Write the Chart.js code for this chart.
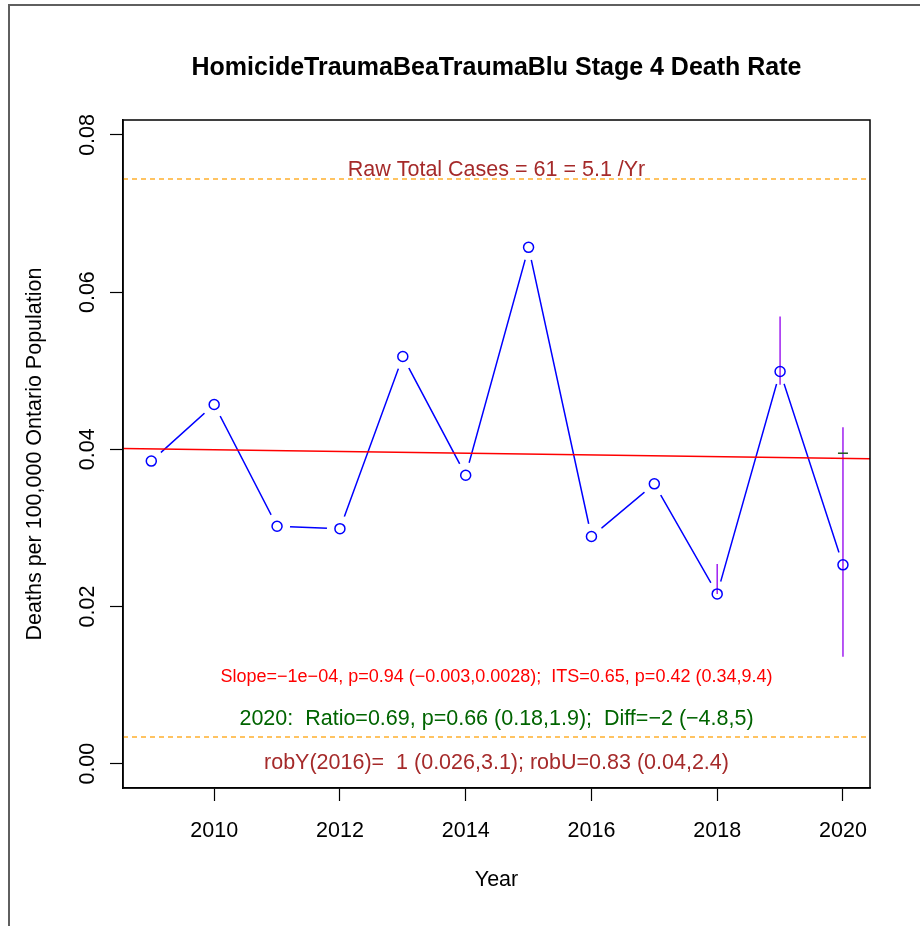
<!DOCTYPE html>
<html>
<head>
<meta charset="utf-8">
<script src="https://cdn.jsdelivr.net/npm/chart.js@4/dist/chart.umd.min.js"></script>
<style>
  body { margin: 0; background: #fff; }
  canvas { display: block; }
</style>
</head>
<body>
<canvas id="rateChart" width="920" height="926"></canvas>
<script>
// values
const years = [2009, 2010, 2011, 2012, 2013, 2014, 2015, 2016, 2017, 2018, 2019, 2020];
const rates = [0.0385, 0.0457, 0.0302, 0.0299, 0.0518, 0.0367, 0.0657, 0.0289, 0.0356, 0.0216, 0.0499, 0.0253];

const trendX = [2008.55, 2020.43];
const trendY = [0.0401, 0.0388];

const errYears = [2018, 2019, 2020];
const errLow = [0.0216, 0.0482, 0.0136];
const errHigh = [0.0254, 0.0569, 0.0428];

const expectedYear = [2020];
const expectedRate = [0.0395];

const rawCasesLine = 0.0744;
const lowLine = 0.0034;

const xRange = [2008.55, 2020.43];
const yRange = [-0.0031, 0.0819];
const xTicks = [2010, 2012, 2014, 2016, 2018, 2020];
const yTicks = [0, 0.02, 0.04, 0.06, 0.08];
const yTickLabels = ["0.00", "0.02", "0.04", "0.06", "0.08"];

const titleText = "HomicideTraumaBeaTraumaBlu Stage 4 Death Rate";
const yTitle = "Deaths per 100,000 Ontario Population";
const xTitle = "Year";
const rawText = "Raw Total Cases = 61 = 5.1 /Yr";
const slopeText = "Slope=\u22121e\u221204, p=0.94 (\u22120.003,0.0028);  ITS=0.65, p=0.42 (0.34,9.4)";
const ratioText = "2020:  Ratio=0.69, p=0.66 (0.18,1.9);  Diff=\u22122 (\u22124.8,5)";
const robText = "robY(2016)=  1 (0.026,3.1); robU=0.83 (0.04,2.4)";

const FONT = "'Liberation Sans', Arial, sans-serif";

const pts = years.map((y, i) => ({ x: y, y: rates[i] }));
const errPts = [];
errYears.forEach((yr, i) => {
  errPts.push({ x: yr, y: errLow[i] }, { x: yr, y: errHigh[i] }, { x: yr, y: null });
});

function hline(v) {
  return [{ x: xRange[0], y: v }, { x: xRange[1], y: v }];
}

const decorations = {
  id: "decorations",
  beforeDraw(chart) {
    const ctx = chart.ctx;
    ctx.save();
    ctx.fillStyle = "#fff";
    ctx.fillRect(0, 0, chart.width, chart.height);
    // outer frame
    ctx.strokeStyle = "#5f5f5f";
    ctx.lineWidth = 2;
    ctx.beginPath();
    ctx.moveTo(9, chart.height);
    ctx.lineTo(9, 5);
    ctx.lineTo(chart.width, 5);
    ctx.stroke();
    ctx.restore();
  },
  afterDraw(chart) {
    const ctx = chart.ctx;
    const a = chart.chartArea;
    const ys = chart.scales.y;
    const cx = (a.left + a.right) / 2;
    ctx.save();
    ctx.strokeStyle = "#000";
    ctx.lineWidth = 1.5;
    ctx.strokeRect(a.left, a.top, a.right - a.left, a.bottom - a.top);

    ctx.textAlign = "center";
    ctx.textBaseline = "middle";

    // y tick labels, rotated as in R
    ctx.fillStyle = "#000";
    ctx.font = "21.5px " + FONT;
    yTicks.forEach((v, i) => {
      ctx.save();
      ctx.translate(88, ys.getPixelForValue(v));
      ctx.rotate(-Math.PI / 2);
      ctx.fillText(yTickLabels[i], 0, 0);
      ctx.restore();
    });

    // axis titles
    ctx.save();
    ctx.translate(35, (a.top + a.bottom) / 2);
    ctx.rotate(-Math.PI / 2);
    ctx.fillText(yTitle, 0, 0);
    ctx.restore();
    ctx.fillText(xTitle, cx, 880);

    ctx.font = "bold 25px " + FONT;
    ctx.fillText(titleText, cx, 68);

    // annotations
    ctx.font = "21.5px " + FONT;
    ctx.fillStyle = "#A52A2A";
    ctx.fillText(rawText, cx, 170);
    ctx.font = "18px " + FONT;
    ctx.fillStyle = "#FF0000";
    ctx.fillText(slopeText, cx, 677);
    ctx.font = "21.5px " + FONT;
    ctx.fillStyle = "#006400";
    ctx.fillText(ratioText, cx, 719);
    ctx.fillStyle = "#A52A2A";
    ctx.fillText(robText, cx, 763);
    ctx.restore();
  }
};

new Chart(document.getElementById("rateChart"), {
  type: "scatter",
  data: {
    datasets: [
      {
        data: pts, showLine: true, borderColor: "#0000FF", borderWidth: 1.5,
        pointRadius: 0, order: 10
      },
      {
        // white discs leave gaps in the line round each point (R type="b")
        data: pts, showLine: false, pointRadius: 13, pointBorderWidth: 0,
        pointBackgroundColor: "#fff", pointBorderColor: "#fff", order: 9
      },
      {
        data: errPts, showLine: true, spanGaps: false, borderColor: "#A020F0",
        borderWidth: 1.5, pointRadius: 0, order: 8
      },
      {
        data: trendX.map((x, i) => ({ x: x, y: trendY[i] })), showLine: true,
        borderColor: "#FF0000", borderWidth: 1.5, pointRadius: 0, order: 7
      },
      {
        data: hline(rawCasesLine), showLine: true, borderColor: "#FFB02E",
        borderWidth: 1.5, borderDash: [5, 4], pointRadius: 0, order: 6
      },
      {
        data: hline(lowLine), showLine: true, borderColor: "#FFB02E",
        borderWidth: 1.5, borderDash: [5, 4], pointRadius: 0, order: 6
      },
      {
        data: pts, showLine: false, pointRadius: 5, pointBorderWidth: 1.5,
        pointBackgroundColor: "rgba(0,0,0,0)", pointBorderColor: "#0000FF", order: 5
      },
      {
        data: expectedYear.map((x, i) => ({ x: x, y: expectedRate[i] })), showLine: false,
        pointStyle: "line", pointRadius: 5, pointBorderWidth: 1.5,
        pointBorderColor: "#1E5A1E", order: 4
      }
    ]
  },
  options: {
    responsive: false,
    animation: false,
    devicePixelRatio: 1,
    layout: { padding: { left: 0, top: 120, right: 50, bottom: 0 } },
    plugins: { legend: { display: false }, tooltip: { enabled: false } },
    scales: {
      x: {
        type: "linear",
        min: xRange[0],
        max: xRange[1],
        afterFit(scale) { scale.height = 138; },
        afterBuildTicks(scale) { scale.ticks = xTicks.map(v => ({ value: v })); },
        grid: { drawOnChartArea: false, color: "#000", tickLength: 13, tickWidth: 1.2 },
        border: { color: "#000", width: 1.5 },
        ticks: {
          color: "#000", font: { family: FONT, size: 21.5 }, padding: 17,
          maxRotation: 0, autoSkip: false, callback: v => String(v)
        }
      },
      y: {
        type: "linear",
        min: yRange[0],
        max: yRange[1],
        afterFit(scale) { scale.width = 123; },
        afterBuildTicks(scale) { scale.ticks = yTicks.map(v => ({ value: v })); },
        grid: { drawOnChartArea: false, color: "#000", tickLength: 13, tickWidth: 1.2 },
        border: { color: "#000", width: 1.5 },
        ticks: { display: false }
      }
    }
  },
  plugins: [decorations]
});
</script>
</body>
</html>
